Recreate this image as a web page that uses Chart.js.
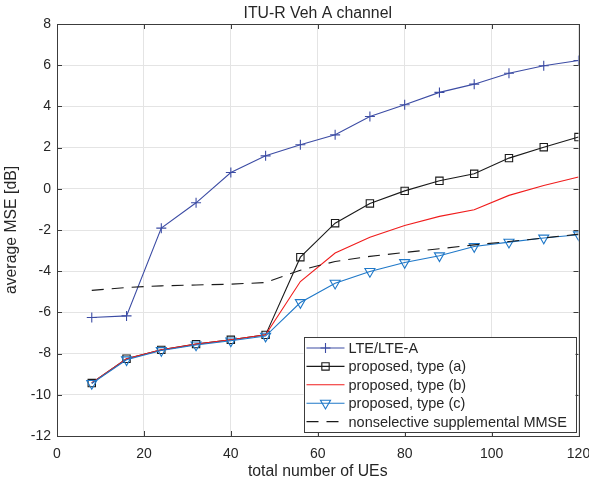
<!DOCTYPE html>
<html>
<head>
<meta charset="utf-8">
<title>ITU-R Veh A channel</title>
<script src="https://cdn.jsdelivr.net/npm/chart.js@4/dist/chart.umd.min.js"></script>
<style>
  body { margin: 0; background: #fff; }
</style>
</head>
<body>
<canvas id="mseChart" width="589" height="484"></canvas>
<script>
// total number of UEs (x) and average MSE in dB for each scheme
var numUEs = [8, 16, 24, 32, 40, 48, 56, 64, 72, 80, 88, 96, 104, 112, 120];
var mseLte = [-6.25, -6.17, -1.91, -0.68, 0.79, 1.6, 2.14, 2.62, 3.51, 4.08, 4.68, 5.08, 5.61, 5.97, 6.23];
var mseTypeA = [-9.43, -8.25, -7.82, -7.54, -7.33, -7.09, -3.32, -1.67, -0.71, -0.1, 0.39, 0.73, 1.49, 2.02, 2.51];
var mseTypeB = [-9.43, -8.25, -7.82, -7.54, -7.33, -7.09, -4.5, -3.12, -2.35, -1.78, -1.34, -1.02, -0.32, 0.16, 0.57];
var mseTypeC = [-9.45, -8.3, -7.85, -7.58, -7.38, -7.15, -5.52, -4.58, -4.01, -3.58, -3.25, -2.8, -2.59, -2.39, -2.23];
var mseNonsel = [-4.93, -4.79, -4.71, -4.67, -4.63, -4.55, -3.95, -3.53, -3.28, -3.09, -2.91, -2.72, -2.56, -2.39, -2.2];

var xTicks = [0, 20, 40, 60, 80, 100, 120];
var yTicks = [-12, -10, -8, -6, -4, -2, 0, 2, 4, 6, 8];

var FONT = '"Liberation Sans", Arial, Helvetica, sans-serif';
var TEXT_COLOR = '#262626';
var AXIS_COLOR = '#3c3c3c';
var LABEL_SIZE = 15.8;

function toPoints(ys) {
    var pts = [];
    for (var i = 0; i < numUEs.length; i++) {
        pts.push({ x: numUEs[i], y: ys[i] });
    }
    return pts;
}

function makeSeries(label, ys, color, marker, extra) {
    var ds = {
        label: label,
        data: toPoints(ys),
        borderColor: color,
        backgroundColor: 'rgba(0,0,0,0)',
        borderWidth: 1.1,
        pointStyle: marker || false,
        pointRadius: marker ? 5 : 0,
        pointBorderColor: color,
        pointBackgroundColor: 'rgba(0,0,0,0)',
        pointBorderWidth: 1.1,
        tension: 0,
        fill: false
    };
    for (var k in extra) ds[k] = extra[k];
    return ds;
}

var datasets = [
    makeSeries('LTE/LTE-A', mseLte, '#3c4ca4', 'cross', { pointRadius: 5, order: 5 }),
    makeSeries('proposed, type (a)', mseTypeA, '#1a1a1a', 'rect', { pointRadius: 5.2, order: 4 }),
    makeSeries('proposed, type (b)', mseTypeB, '#f01c1c', false, { order: 3 }),
    makeSeries('proposed, type (c)', mseTypeC, '#1f78c8', 'triangle', { pointRadius: 5.8, pointRotation: 180, order: 2 }),
    makeSeries('nonselective supplemental MMSE', mseNonsel, '#1a1a1a', false, { borderDash: [12, 8], order: 1 })
];

// title, boxed axes with inward ticks, and a MATLAB-style legend
var axesDecor = {
    id: 'axesDecor',
    afterDraw: function (chart) {
        var ctx = chart.ctx;
        var a = chart.chartArea;
        var xs = chart.scales.x, ys = chart.scales.y;
        ctx.save();

        // title
        ctx.fillStyle = TEXT_COLOR;
        ctx.font = LABEL_SIZE + 'px ' + FONT;
        ctx.textAlign = 'center';
        ctx.textBaseline = 'middle';
        ctx.fillText('ITU-R Veh A channel', (a.left + a.right) / 2, 14);

        // ticks pointing inwards on all four sides
        ctx.strokeStyle = AXIS_COLOR;
        ctx.lineWidth = 1;
        ctx.beginPath();
        var tl = 5;
        xTicks.forEach(function (v) {
            var px = Math.round(xs.getPixelForValue(v)) + 0.5;
            ctx.moveTo(px, a.bottom); ctx.lineTo(px, a.bottom - tl);
            ctx.moveTo(px, a.top); ctx.lineTo(px, a.top + tl);
        });
        yTicks.forEach(function (v) {
            var py = Math.round(ys.getPixelForValue(v)) + 0.5;
            ctx.moveTo(a.left, py); ctx.lineTo(a.left + tl, py);
            ctx.moveTo(a.right, py); ctx.lineTo(a.right - tl, py);
        });
        ctx.stroke();
        ctx.strokeRect(Math.round(a.left) + 0.5, Math.round(a.top) + 0.5,
            Math.round(a.right - a.left), Math.round(a.bottom - a.top));

        // legend box in the lower right corner
        var boxRight = a.right - 3, boxBottom = a.bottom - 4;
        var boxLeft = 303.5, rowH = 18.4;
        var boxTop = boxBottom - rowH * datasets.length - 3;
        ctx.fillStyle = '#fff';
        ctx.fillRect(boxLeft, boxTop, boxRight - boxLeft, boxBottom - boxTop);
        ctx.strokeStyle = AXIS_COLOR;
        ctx.strokeRect(Math.round(boxLeft) + 0.5, Math.round(boxTop) + 0.5,
            Math.round(boxRight - boxLeft), Math.round(boxBottom - boxTop));

        datasets.forEach(function (ds, i) {
            var cy = boxTop + 11 + i * rowH;
            var x0 = boxLeft + 3, x1 = boxLeft + 41;
            ctx.strokeStyle = ds.borderColor;
            ctx.lineWidth = ds.borderWidth;
            ctx.setLineDash(ds.borderDash || []);
            ctx.beginPath();
            ctx.moveTo(x0, cy); ctx.lineTo(x1, cy);
            ctx.stroke();
            ctx.setLineDash([]);
            if (ds.pointStyle) {
                // hollow marker, same as on the curves
                ctx.fillStyle = 'rgba(0,0,0,0)';
                Chart.helpers.drawPoint(ctx, {
                    pointStyle: ds.pointStyle,
                    radius: ds.pointRadius,
                    rotation: ds.pointRotation || 0,
                    borderWidth: ds.pointBorderWidth
                }, (x0 + x1) / 2, cy);
            }
            ctx.fillStyle = TEXT_COLOR;
            ctx.font = '14.5px ' + FONT;
            ctx.textAlign = 'left';
            ctx.textBaseline = 'middle';
            ctx.fillText(ds.label, x1 + 4, cy + 1);
        });

        ctx.restore();
    }
};

var chart = new Chart(document.getElementById('mseChart').getContext('2d'), {
    type: 'line',
    data: { datasets: datasets },
    options: {
        responsive: false,
        animation: false,
        devicePixelRatio: 1,
        layout: { padding: { top: 24, right: 10.5, left: 0, bottom: 0 } },
        plugins: {
            legend: { display: false },
            tooltip: { enabled: false },
            title: { display: false }
        },
        scales: {
            x: {
                type: 'linear',
                min: 0,
                max: 120,
                afterBuildTicks: function (scale) {
                    scale.ticks = xTicks.map(function (v) { return { value: v }; });
                },
                afterFit: function (scale) {
                    scale.height = 48;
                    scale.paddingLeft = 0;
                    scale.paddingRight = 0;
                },
                grid: { color: '#e4e4e4', lineWidth: 1, drawTicks: false },
                border: { display: false },
                ticks: { color: TEXT_COLOR, font: { family: FONT, size: 14 }, padding: 9.5, maxRotation: 0 },
                title: {
                    display: true,
                    text: 'total number of UEs',
                    color: TEXT_COLOR,
                    font: { family: FONT, size: LABEL_SIZE },
                    padding: { top: 0, bottom: 3 }
                }
            },
            y: {
                min: -12,
                max: 8,
                afterBuildTicks: function (scale) {
                    scale.ticks = yTicks.map(function (v) { return { value: v }; });
                },
                afterFit: function (scale) {
                    scale.width = 57;
                },
                grid: { color: '#e4e4e4', lineWidth: 1, drawTicks: false },
                border: { display: false },
                ticks: { color: TEXT_COLOR, font: { family: FONT, size: 14 }, padding: 6 },
                title: {
                    display: true,
                    text: 'average MSE [dB]',
                    color: TEXT_COLOR,
                    font: { family: FONT, size: LABEL_SIZE },
                    padding: { top: 2.5, bottom: 0 }
                }
            }
        }
    },
    plugins: [axesDecor]
});
</script>
</body>
</html>
